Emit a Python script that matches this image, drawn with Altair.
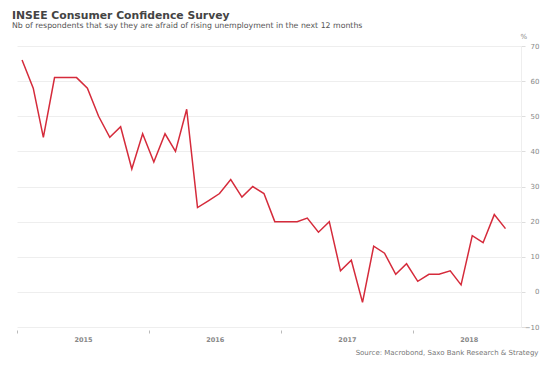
import altair as alt
import pandas as pd

# Monthly readings, Jan 2015 .. Sep 2018 (plotted mid-month)
values = [66, 58, 44, 61, 61, 61, 58, 50, 44, 47, 35, 45,
          37, 45, 40, 52, 24, 26, 28, 32, 27, 30, 28, 20,
          20, 20, 21, 17, 20, 6, 9, -3, 13, 11, 5, 8,
          3, 5, 5, 6, 2, 16, 14, 22, 18]
start_month = "2015-01-15"
year_ticks = [2015, 2016, 2017, 2018]
y_ticks = [-10, 0, 10, 20, 30, 40, 50, 60, 70]

dates = pd.date_range("2015-01-01", periods=len(values), freq="MS") + pd.Timedelta(days=14)
df = pd.DataFrame({"date": dates.strftime("%Y-%m-%dT00:00:00"), "value": values})

line = alt.Chart(df).mark_line(color="#d52b3b", strokeWidth=1.5).encode(
    x=alt.X(
        "date:T",
        scale=alt.Scale(domain=[alt.DateTime(year=2015, month=1, date=1),
                                alt.DateTime(year=2018, month=10, date=28)]),
        axis=alt.Axis(
            values=[alt.DateTime(year=y, month=1, date=1) for y in year_ticks],
            format="%Y",
            grid=False,
            domain=False,
            offset=3,
            tickSize=3,
            tickColor="#bbbbbb",
            labelOffset={"condition": {"test": "year(datum.value) == 2018", "value": 56}, "value": 66},
            labelAlign="center",
            labelFont="DejaVu Sans",
            labelFontSize=6.5,
            labelFontWeight="bold",
            labelColor="#888888",
            labelPadding=3,
            title="Source: Macrobond, Saxo Bank Research & Strategy",
            titleFont="DejaVu Sans",
            titleFontSize=7,
            titleFontWeight="normal",
            titleColor="#777777",
            titleAnchor="end",
            titleAlign="right",
            titleX=521,
            titleY=24,
            titleBaseline="alphabetic",
        ),
    ),
    y=alt.Y(
        "value:Q",
        scale=alt.Scale(domain=[-10, 70], nice=False, zero=False),
        axis=alt.Axis(
            orient="right",
            values=y_ticks,
            grid=True,
            gridColor="#eeeeee",
            domain=True,
            domainColor="#eeeeee",
            tickSize=4,
            tickColor="#dddddd",
            labelFont="DejaVu Sans",
            labelFontSize=7,
            labelColor="#888888",
            labelAlign="right",
            labelPadding=14,
            title="%",
            titleFont="DejaVu Sans",
            titleFontSize=7,
            titleFontWeight="normal",
            titleColor="#888888",
            titleAngle=0,
            titleAlign="left",
            titleBaseline="alphabetic",
            titleX=-1,
            titleY=-8,
        ),
    ),
)

chart = line.properties(
    width=504,
    height=281,
    autosize=alt.AutoSizeParams(type="none"),
    padding={"left": 9, "top": 38, "right": 19, "bottom": 35},
    title=alt.TitleParams(
        text="INSEE Consumer Confidence Survey",
        subtitle="Nb of respondents that say they are afraid of rising unemployment in the next 12 months",
        anchor="start",
        frame="group",
        font="DejaVu Sans",
        fontSize=10.8,
        fontWeight="bold",
        color="#444444",
        subtitleFont="DejaVu Sans",
        subtitleFontSize=7.8,
        subtitleColor="#555555",
        subtitlePadding=1.5,
        dx=-5,
        dy=4,
        offset=6,
    ),
).configure_view(stroke=None)

chart.save("out.html", embed_options={"renderer": "svg", "actions": False})
